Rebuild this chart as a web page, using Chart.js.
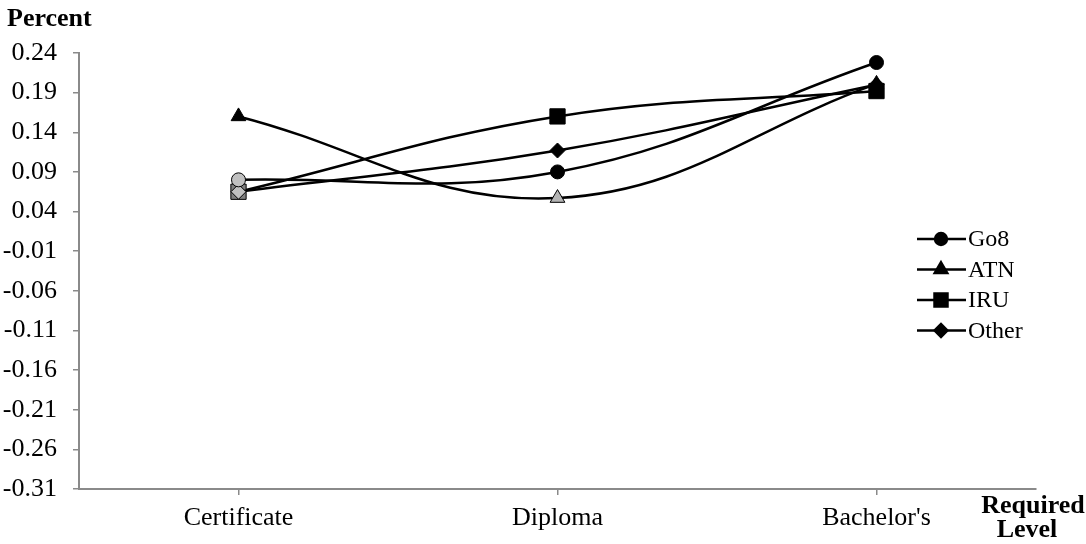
<!DOCTYPE html>
<html>
<head>
<meta charset="utf-8">
<script src="https://cdn.jsdelivr.net/npm/chart.js@4/dist/chart.umd.min.js"></script>
<style>
  html, body { margin: 0; padding: 0; background: #fff; }
  #wrap { width: 1086px; height: 544px; position: relative; }
</style>
</head>
<body>
<div id="wrap"><canvas id="c" width="1086" height="544"></canvas></div>
<script>
// Required level of the role, by university group
const categories = ["Certificate", "Diploma", "Bachelor's"];
const go8Values   = [0.080, 0.090, 0.228];
const atnValues   = [0.160, 0.057, 0.201];
const iruValues   = [0.065, 0.160, 0.192];
const otherValues = [0.065, 0.117, 0.200];
const yTickLabels = ["0.24", "0.19", "0.14", "0.09", "0.04", "-0.01", "-0.06", "-0.11", "-0.16", "-0.21", "-0.26", "-0.31"];

const SERIF = "'Liberation Serif', 'Times New Roman', serif";
const AXIS_GREY = '#8a8a8a';

const yTickValues = yTickLabels.map(Number);

function series(label, data, style, radius, fills, order) {
  return {
    label, data, order,
    borderColor: '#000',
    borderWidth: 2.5,
    tension: 0.4,
    fill: false,
    pointStyle: style,
    pointRadius: radius,
    pointHoverRadius: radius,
    pointBackgroundColor: fills,
    pointBorderColor: '#000',
    pointBorderWidth: 1
  };
}

// Title text and a line-with-marker legend drawn on the canvas
const decorations = {
  id: 'decorations',
  afterDraw(chart) {
    const ctx = chart.ctx;
    ctx.save();
    ctx.fillStyle = '#000';
    ctx.textBaseline = 'alphabetic';

    ctx.font = `bold 26px ${SERIF}`;
    ctx.textAlign = 'left';
    ctx.fillText('Percent', 7, 26);

    ctx.textAlign = 'center';
    ctx.fillText('Required', 1033, 513);
    ctx.fillText('Level', 1027, 537);

    const rowY = [239, 269.5, 300, 330.5];
    chart.data.datasets.forEach((ds, i) => {
      const y = rowY[i];
      ctx.strokeStyle = '#000';
      ctx.lineWidth = 2.5;
      ctx.beginPath();
      ctx.moveTo(917, y);
      ctx.lineTo(966, y);
      ctx.stroke();
      ctx.fillStyle = '#000';
      Chart.helpers.drawPoint(ctx, {
        pointStyle: ds.pointStyle,
        radius: ds.pointRadius * 0.85,
        rotation: 0,
        borderWidth: 1
      }, 941, y);
      ctx.fill();
      ctx.fillStyle = '#000';
      ctx.font = `24px ${SERIF}`;
      ctx.textAlign = 'left';
      ctx.textBaseline = 'middle';
      ctx.fillText(ds.label, 968, y + 1);
    });
    ctx.restore();
  }
};

new Chart(document.getElementById('c'), {
  type: 'line',
  data: {
    labels: categories,
    datasets: [
      series('Go8', go8Values, 'circle', 7, ['#c0c0c0', '#000', '#000'], 0),
      series('ATN', atnValues, 'triangle', 8.5, ['#000', '#b4b4b4', '#000'], 2),
      series('IRU', iruValues, 'rect', 10.8, ['#7f7f7f', '#000', '#000'], 3),
      series('Other', otherValues, 'rectRot', 7.5, ['#c0c0c0', '#000', '#000'], 1)
    ]
  },
  options: {
    responsive: false,
    animation: false,
    devicePixelRatio: 1,
    layout: { padding: { top: 53, right: 50, bottom: 0, left: 0 } },
    plugins: {
      legend: { display: false },
      tooltip: { enabled: false },
      title: { display: false }
    },
    scales: {
      x: {
        type: 'category',
        offset: true,
        grid: { display: true, drawOnChartArea: false, tickLength: 6, color: AXIS_GREY, lineWidth: 1.5 },
        border: { display: true, color: AXIS_GREY, width: 2 },
        ticks: { color: '#000', font: { family: SERIF, size: 26 }, padding: 8, maxRotation: 0 },
        afterFit(scale) { scale.height = 55; }
      },
      y: {
        min: yTickValues[yTickValues.length - 1],
        max: yTickValues[0],
        afterBuildTicks(scale) {
          scale.ticks = yTickValues.slice().reverse().map(v => ({ value: v }));
        },
        grid: { display: true, drawOnChartArea: false, tickLength: 6, color: AXIS_GREY, lineWidth: 1.5 },
        border: { display: true, color: AXIS_GREY, width: 2 },
        ticks: {
          color: '#000',
          font: { family: SERIF, size: 26 },
          padding: 16,
          callback(value) {
            const i = yTickValues.findIndex(v => Math.abs(v - value) < 1e-9);
            return i >= 0 ? yTickLabels[i] : '';
          }
        },
        afterFit(scale) { scale.width = 79; }
      }
    }
  },
  plugins: [decorations]
});
</script>
</body>
</html>
